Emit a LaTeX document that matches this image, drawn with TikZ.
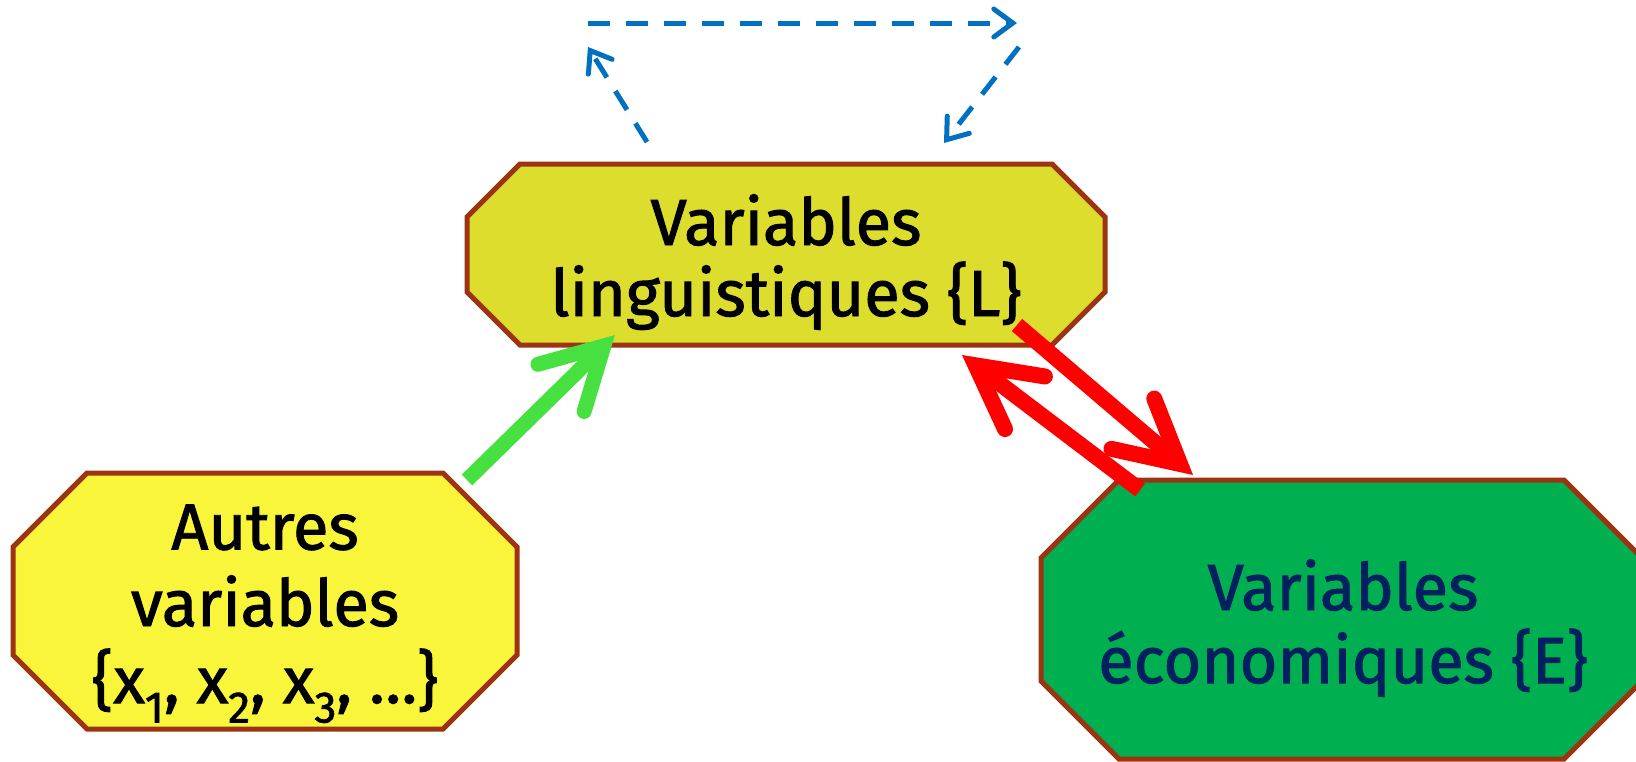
\documentclass[tikz,border=0pt]{standalone}
\usepackage{fontspec}
\setmainfont{Fira Sans}[FakeBold=1.5]
\usetikzlibrary{arrows.meta,calc}

\definecolor{edgebrown}{RGB}{156,51,17}
\definecolor{lingfill}{RGB}{221,221,46}
\definecolor{autrefill}{RGB}{248,245,58}
\definecolor{ecofill}{RGB}{0,175,80}
\definecolor{ecotext}{RGB}{0,32,96}
\definecolor{arrowgreen}{RGB}{70,225,65}
\definecolor{arrowred}{RGB}{255,0,0}
\definecolor{loopblue}{RGB}{0,112,192}

% octagon drawn around the frame of a named node: #1 node, #2 chamfer, #3 fill
\newcommand\octoframe[3]{%
  \path[draw=edgebrown, line width=5pt, line join=miter, fill=#3]
    ($(#1.north west)+(#2,0)$) -- ($(#1.north east)+(-#2,0)$)
    -- ($(#1.north east)+(0,#2)$) -- ($(#1.south east)+(0,-#2)$)
    -- ($(#1.south east)+(-#2,0)$) -- ($(#1.south west)+(#2,0)$)
    -- ($(#1.south west)+(0,-#2)$) -- ($(#1.north west)+(0,#2)$) -- cycle;}

\tikzset{
  frame/.style={shape=rectangle, inner sep=0pt, outer sep=0pt},
  label/.style={inner sep=0pt, anchor=base, font=\fontsize{65}{65}\selectfont},
  soft shade/.style={preaction={draw=black, opacity=0.12,
    transform canvas={shift={(2pt,-3pt)}}}},
  greenarrow/.style={soft shade, draw=arrowgreen, line width=15pt,
    -{Straight Barb[length=60pt, width=66pt, line cap=round, line join=miter]}},
  redarrow/.style={soft shade, draw=arrowred, line width=16pt,
    -{Straight Barb[length=62pt, width=66pt, line cap=round, line join=miter]}},
  loop/.style={draw=loopblue, line width=5pt, dash pattern=on 22pt off 16pt,
    -{Straight Barb[length=19pt, width=28pt, line cap=round, line join=miter]}},
}

\newcommand\sub[1]{\raisebox{-0.3em}{\fontsize{44}{44}\selectfont #1}}

\begin{document}
\begin{tikzpicture}[x=1pt, y=-1pt]
\useasboundingbox (0,0) rectangle (1636,761);

% the three blocks
\node[frame, minimum width=638pt, minimum height=181pt] (L) at (786,254.5) {};
\node[frame, minimum width=504pt, minimum height=256pt] (A) at (265,601) {};
\node[frame, minimum width=601pt, minimum height=279pt] (E) at (1341.5,619.5) {};

\octoframe{L}{53}{lingfill}
\octoframe{A}{74}{autrefill}
\octoframe{E}{78}{ecofill}

% block texts
\node[label] (L1) at (786,245) {Variables};
\node[label] (L2) at (786,316) {linguistiques \{L\}};

\node[label] (A1) at (265,549.5) {Autres};
\node[label] (A2) at (265,626) {variables};
\node[label] (A3) at (265,703) {\{x\sub{1}, x\sub{2}, x\sub{3}, …\}};

\node[label, text=ecotext] (E1) at (1343,610) {Variables};
\node[label, text=ecotext] (E2) at (1343,683) {économiques \{E\}};

% influences between the blocks
\draw[greenarrow] ($(A.north east)+(-50,7)$) -- ($(L.south west)+(148,-10)$);
\draw[redarrow] ($(L.south east)+(-88,-20)$) -- ($(E.north west)+(152,-5)$);
\draw[redarrow] ($(E.north west)+(99,10)$) -- ($(L.south east)+(-143,10)$);

% dashed feedback loop above the linguistic block
\coordinate (p1) at (647,142);
\coordinate (p2) at (588,47);
\coordinate (p3) at (588,23);
\coordinate (p4) at (1017,23);
\coordinate (p5) at (1019,47);
\coordinate (p6) at (944,143);
\draw[loop] (p1) -- (p2);
\draw[loop] (p3) -- (p4);
\draw[loop] (p5) -- (p6);
\end{tikzpicture}
\end{document}
